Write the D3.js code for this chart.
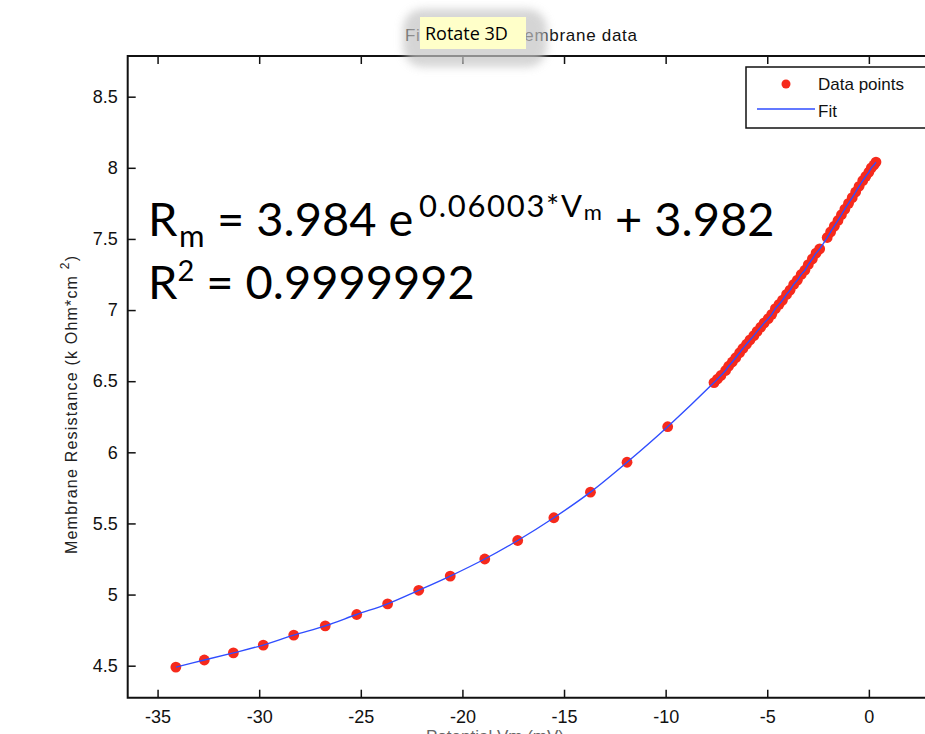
<!DOCTYPE html>
<html>
<head>
<meta charset="utf-8">
<script src="https://cdn.jsdelivr.net/npm/d3@7/dist/d3.min.js"></script>
<style>
  body { margin: 0; background: #fff; }
  svg { display: block; }
</style>
</head>
<body>
<script>
// membrane resistance vs potential
var vm = [-34.1, -32.7, -31.27, -29.8, -28.3, -26.75, -25.2, -23.68, -22.15, -20.6,
  -18.9, -17.28, -15.5, -13.7, -11.9, -9.9,
  -7.62, -7.45, -7.28, -7.05, -6.9, -6.72, -6.55, -6.36, -6.2, -6.02,
  -5.85, -5.66, -5.5, -5.32, -5.15, -4.95, -4.78, -4.6, -4.42, -4.25,
  -4.05, -3.88, -3.7, -3.52, -3.33, -3.15, -2.98, -2.78, -2.6, -2.42,
  -2.05, -1.88, -1.7, -1.52, -1.35, -1.18, -1.0, -0.82, -0.65, -0.48,
  -0.3, -0.15, 0.0, 0.12, 0.25, 0.35];
var rm = [4.49, 4.54, 4.59, 4.645, 4.715, 4.78, 4.86, 4.935, 5.03, 5.13,
  5.25, 5.38, 5.54, 5.72, 5.93, 6.18,
  6.49, 6.515, 6.54, 6.575, 6.605, 6.635, 6.665, 6.70, 6.73, 6.76,
  6.79, 6.82, 6.85, 6.88, 6.91, 6.94, 6.97, 7.01, 7.04, 7.07,
  7.11, 7.14, 7.18, 7.21, 7.25, 7.28, 7.32, 7.36, 7.40, 7.43,
  7.51, 7.55, 7.59, 7.63, 7.67, 7.71, 7.75, 7.79, 7.83, 7.87,
  7.91, 7.94, 7.97, 8.00, 8.02, 8.04];
var xTicks = [-35, -30, -25, -20, -15, -10, -5, 0];
var yTicks = [4.5, 5, 5.5, 6, 6.5, 7, 7.5, 8, 8.5];

var W = 925, H = 734;
var mLeft = 127.7, mTop = 56, mBottom = 697.7, mRight = 940;

var xScale = d3.scaleLinear().domain([-36.47, 3.5]).range([mLeft, mRight]);
var yScale = d3.scaleLinear().domain([4.275, 8.786]).range([mBottom, mTop]);
var fmt = function (d) { return String(d); };

var svg = d3.select('body').append('svg')
    .attr('width', W)
    .attr('height', H);

svg.append('rect').attr('width', W).attr('height', H).attr('fill', '#fff');

var defs = svg.append('defs');
defs.append('filter').attr('id', 'blur')
    .attr('x', '-30%').attr('y', '-50%').attr('width', '160%').attr('height', '200%')
  .append('feGaussianBlur').attr('stdDeviation', 4);

var FONT = 'Liberation Sans, Arial, sans-serif';

// title (partly hidden by the tooltip)
svg.append('text')
    .attr('x', 405)
    .attr('y', 41)
    .attr('font-family', FONT)
    .attr('font-size', 17)
    .attr('fill', '#111')
    .attr('textLength', 232)
    .attr('lengthAdjust', 'spacing')
    .text('Fit curve for membrane data');

// axes
var axisFont = function (g) {
  g.selectAll('text')
    .attr('font-family', FONT)
    .attr('font-size', 18)
    .attr('fill', '#111');
  g.selectAll('line').attr('stroke', '#111').attr('stroke-width', 1.5);
  g.select('.domain').remove();
};

svg.append('g')
    .attr('transform', 'translate(0,' + mBottom + ')')
    .call(d3.axisBottom(xScale).tickValues(xTicks).tickSize(-8).tickPadding(13).tickFormat(fmt))
    .call(axisFont);

svg.append('g')
    .attr('transform', 'translate(0,' + mTop + ')')
    .call(d3.axisTop(xScale).tickValues(xTicks).tickSize(-8).tickFormat(''))
    .call(axisFont);

svg.append('g')
    .attr('transform', 'translate(' + mLeft + ',0)')
    .call(d3.axisLeft(yScale).tickValues(yTicks).tickSize(-8).tickPadding(10).tickFormat(fmt))
    .call(axisFont);

// box frame
svg.append('path')
    .attr('d', 'M' + mRight + ',' + mTop + 'H' + mLeft + 'V' + mBottom + 'H' + mRight)
    .attr('fill', 'none')
    .attr('stroke', '#111')
    .attr('stroke-width', 2);

// axis labels
svg.append('text')
    .attr('transform', 'translate(77,405) rotate(-90)')
    .attr('text-anchor', 'middle')
    .attr('font-family', FONT)
    .attr('font-size', 16)
    .attr('fill', '#222')
    .attr('textLength', 298)
    .html('Membrane Resistance (k Ohm*cm <tspan dy="-8" font-size="12">2</tspan><tspan dy="8">)</tspan>');

svg.append('text')
    .attr('x', 495)
    .attr('y', 742)
    .attr('text-anchor', 'middle')
    .attr('font-family', FONT)
    .attr('font-size', 17)
    .attr('fill', '#666')
    .text('Potential Vm (mV)');

// data points
var pts = vm.map(function (d, i) { return [d, rm[i]]; });

svg.append('g').selectAll('circle')
    .data(pts)
    .enter()
    .append('circle')
    .attr('cx', function (d) { return xScale(d[0]); })
    .attr('cy', function (d) { return yScale(d[1]); })
    .attr('r', 5.4)
    .attr('fill', '#f62a1c');

// fit line
svg.append('path')
    .datum(pts)
    .attr('d', d3.line()
      .x(function (d) { return xScale(d[0]); })
      .y(function (d) { return yScale(d[1]); })
      .curve(d3.curveCatmullRom.alpha(0.5)))
    .attr('fill', 'none')
    .attr('stroke', '#2f4dff')
    .attr('stroke-width', 1.4);

// legend
var lg = svg.append('g');
lg.append('rect')
    .attr('x', 746).attr('y', 67).attr('width', 200).attr('height', 61)
    .attr('fill', '#fff').attr('stroke', '#111').attr('stroke-width', 1.5);
lg.append('circle').attr('cx', 786).attr('cy', 84).attr('r', 4.5).attr('fill', '#f62a1c');
lg.append('line').attr('x1', 757).attr('x2', 815).attr('y1', 109).attr('y2', 109)
    .attr('stroke', '#2f4dff').attr('stroke-width', 1.4);
lg.selectAll('text.lab')
    .data(['Data points', 'Fit'])
    .enter()
    .append('text')
    .attr('class', 'lab')
    .attr('x', 818)
    .attr('y', function (d, i) { return 90 + i * 27; })
    .attr('font-family', FONT)
    .attr('font-size', 17)
    .attr('fill', '#111')
    .text(function (d) { return d; });

// equation annotation
var eq = svg.append('g')
    .attr('font-family', 'Lato, Open Sans, sans-serif')
    .attr('fill', '#000');
var l1 = eq.append('text').attr('y', 236).attr('font-size', 47);
l1.append('tspan').attr('x', 148).text('R');
l1.append('tspan').attr('x', 179).attr('dy', 11).attr('font-size', 31).text('m');
l1.append('tspan').attr('x', 217).attr('dy', -11).text('= 3.984 e');
l1.append('tspan').attr('x', 419).attr('dy', -19).attr('font-size', 31)
    .attr('letter-spacing', 1.7).text('0.06003*V');
l1.append('tspan').attr('dy', 3).attr('font-size', 22).text('m');
l1.append('tspan').attr('x', 615).attr('dy', 16).text('+ 3.982');

var l2 = eq.append('text').attr('y', 299).attr('font-size', 47);
l2.append('tspan').attr('x', 148).text('R');
l2.append('tspan').attr('dy', -18).attr('font-size', 29).text('2');
l2.append('tspan').attr('dy', 18).text(' = 0.9999992');

// "Rotate 3D" tooltip over the title
var tip = svg.append('g');
tip.append('rect')
    .attr('x', 403).attr('y', 9).attr('width', 144).attr('height', 58).attr('rx', 20)
    .attr('fill', '#c4c4c4').attr('opacity', 0.7)
    .attr('filter', 'url(#blur)');
tip.append('rect')
    .attr('x', 420).attr('y', 17).attr('width', 106).attr('height', 32)
    .attr('fill', '#ffffc9');
tip.append('text')
    .attr('x', 425).attr('y', 40)
    .attr('font-family', 'Open Sans, Lato, sans-serif')
    .attr('font-size', 18)
    .attr('fill', '#000')
    .text('Rotate 3D');
</script>
</body>
</html>
